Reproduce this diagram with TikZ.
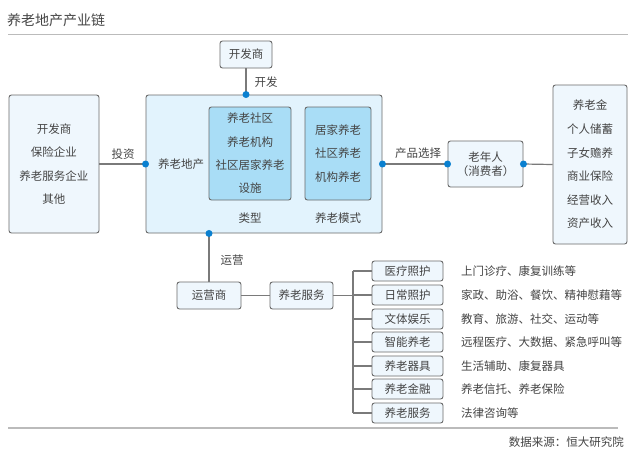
\documentclass[tikz,border=0pt]{standalone}
\usepackage{fontspec}
\setmainfont{Noto Sans CJK SC}
\definecolor{txt}{HTML}{444444}
\definecolor{bd}{HTML}{6A6A6A}
\definecolor{ln}{HTML}{7A7A7A}
\definecolor{pale}{HTML}{EFF7FD}
\definecolor{mainfill}{HTML}{E2F3FD}
\definecolor{innerfill}{HTML}{A9DDF6}
\definecolor{dotc}{HTML}{0A80D0}
\definecolor{rule}{HTML}{BBBBBB}
\begin{document}
\begin{tikzpicture}[x=1pt,y=-1pt,
  every node/.style={text=txt,font=\fontsize{11.5}{23.3}\selectfont,inner sep=0pt},
  box/.style={draw=bd,line width=0.9pt,rounded corners=2.5pt,fill=pale,align=center},
  mainbox/.style={box,fill=mainfill},
  innerbox/.style={box,fill=innerfill},
  svc/.style={box,minimum width=71pt,minimum height=20pt},
  conn/.style={draw=ln,line width=1.2pt},
  dot/.style={circle,fill=dotc,minimum size=7pt,inner sep=0pt},
  lbl/.style={}
]
\useasboundingbox (0,0) rectangle (640,448);
\fill[white] (0,0) rectangle (640,448);

% title
\node[anchor=west,font=\fontsize{14}{16}\selectfont] (title) at (7,20) {养老地产产业链};
\draw[rule,line width=1.5pt] (8,34.5) -- (628,34.5);
\draw[rule,line width=1.5pt] (8,428) -- (618,428);
\node[anchor=east] (src) at (624,442) {数据来源：恒大研究院};

% boxes
\node[box,minimum width=52pt,minimum height=27pt] (kfs) at (246,54.5) {开发商};
\node[box,minimum width=90pt,minimum height=138pt] (left) at (54,164) {开发商\\保险企业\\养老服务企业\\其他};
\node[mainbox,minimum width=236pt,minimum height=138pt] (main) at (264,164) {};
\node[innerbox,minimum width=82pt,minimum height=93pt] (in1) at (250,153.5) {养老社区\\养老机构\\社区居家养老\\设施};
\node[innerbox,minimum width=66pt,minimum height=93pt] (in2) at (338,153.5) {居家养老\\社区养老\\机构养老};
\node[box,minimum width=75pt,minimum height=46pt,font=\fontsize{11.5}{13.5}\selectfont] (old) at (485.5,164) {老年人\\（消费者）};
\node[box,minimum width=74pt,minimum height=159pt,font=\fontsize{11.5}{23.6}\selectfont] (right) at (590,164.5) {养老金\\个人储蓄\\子女赡养\\商业保险\\经营收入\\资产收入};
\node[box,minimum width=64pt,minimum height=27pt] (yys) at (209,295.5) {运营商};
\node[box,minimum width=63pt,minimum height=27pt] (fw) at (301.5,295.5) {养老服务};

% labels
\node (lkf) at (266,82) {开发};
\node (ltz) at (123,154) {投资};
\node (ldc) at (181,164) {养老地产};
\node (llx) at (250,218) {类型};
\node (lms) at (338,218) {养老模式};
\node (lyy) at (232,260) {运营};
\node (lcp) at (418,153) {产品选择};

% connectors
\draw[conn] (kfs.south) -- (kfs.south |- main.north);
\draw[conn] (left.east) -- (main.west);
\draw[conn] (main.east) -- (old.west);
\draw[conn] (old.east) -- (right.west);
\draw[conn] (yys.north |- main.south) -- (yys.north);
\draw[conn] (yys.east) -- (fw.west);

\node[dot] (d1) at (kfs.south |- main.north) {};
\node[dot] (d2) at (main.west) {};
\node[dot] (d3) at (main.east) {};
\node[dot] (d4) at (old.west) {};
\node[dot] (d5) at (old.east) {};
\node[dot] (d6) at (yys.north |- main.south) {};

% services
\coordinate (bk) at (353,0);
\foreach \i/\y/\name/\desc in {1/271/医疗照护/上门诊疗、康复训练等,
  2/295/日常照护/家政、助浴、餐饮、精神慰藉等,
  3/319/文体娱乐/教育、旅游、社交、运动等,
  4/342/智能养老/远程医疗、大数据、紧急呼叫等,
  5/366/养老器具/生活辅助、康复器具,
  6/389/养老金融/养老信托、养老保险,
  7/413/养老服务/法律咨询等}{
  \node[svc] (s\i) at (407.5,\y) {\name};
  \node[anchor=west] (t\i) at (461,\y) {\desc};
  \draw[conn] (s\i.west) -- (s\i.west -| bk);
}
\draw[conn] (s1.west -| bk) -- (s7.west -| bk);
\draw[conn] (fw.east) -- (fw.east -| bk);
\end{tikzpicture}
\end{document}
